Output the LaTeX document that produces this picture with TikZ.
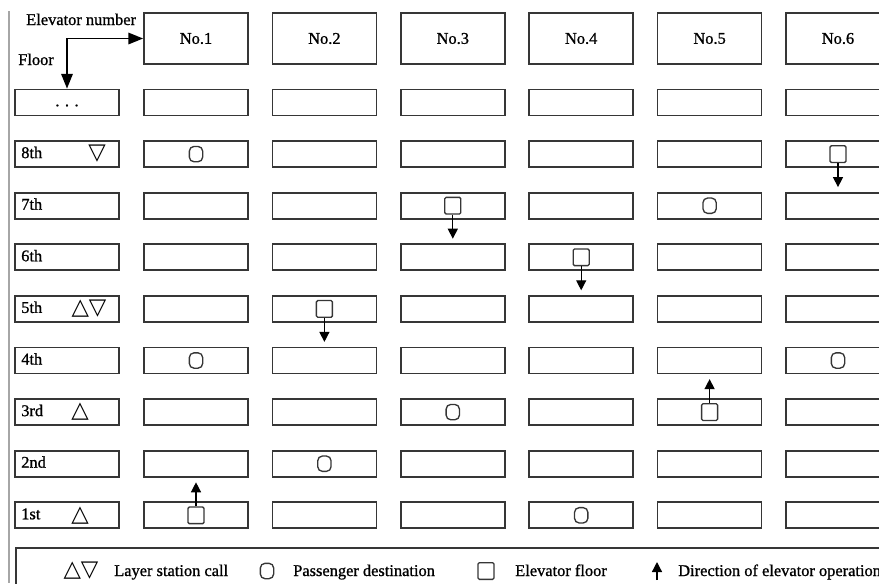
\documentclass[tikz,border=0pt]{standalone}
\usepackage{fontspec}
\setmainfont{Liberation Serif}[FakeBold=1]
\newfontfamily\symfont{DejaVu Sans}
\usetikzlibrary{arrows.meta}
\definecolor{ink}{HTML}{363636}
\definecolor{edge}{HTML}{A6A6A6}

\begin{document}
\begin{tikzpicture}[x=.75pt,y=-.75pt,font=\fontsize{12.3}{14}\selectfont,
 cell/.style={draw=ink,line width=1.3pt,minimum width=78pt,minimum height=19.5pt,inner sep=0pt},
 head/.style={cell,minimum height=38.25pt},
 label/.style={anchor=base west,inner sep=0pt},
 tri/.style={font=\symfont\fontsize{17}{17}\selectfont,inner sep=0pt},
 car/.style={draw=ink,line width=1pt,minimum width=12pt,minimum height=12.5pt,inner sep=0pt,rounded corners=1pt,fill=white},
 dest/.style={draw=ink,line width=1pt,minimum width=10pt,minimum height=11.5pt,inner sep=0pt,rounded corners=3.5pt},
 move/.style={-{Triangle[length=7.5pt,width=7.5pt]},draw=black,line width=1pt},
 link/.style={{Triangle[length=11pt,width=8.5pt]}-{Triangle[length=11pt,width=8.5pt]},draw=black,line width=1.4pt}]
\useasboundingbox (0,0) rectangle (879,583);
\clip (0,0) rectangle (879,583);
\draw[edge,line width=1.2pt] (9,11)--(9,583);
% header row: elevator numbers
\foreach \c in {1,...,6}
 \node[head] (h-\c) at ({196+128.4*(\c-1)},38.5) {No.\c};
\node[label] (t-num) at (26,25) {Elevator number};
\node[label] (t-floor) at (18,65) {Floor};
% floor column and grid of cells
\node[cell] (f-0) at (67,102.5) {\strut. . .};
\foreach \c in {1,...,6}
 \node[cell] (c-0-\c) at ({196+128.4*(\c-1)},102.5) {};
\foreach \r/\name in {1/8th,2/7th,3/6th,4/5th,5/4th,6/3rd,7/2nd,8/1st} {
 \node[cell] (f-\r) at (67,{102.5+51.6*\r}) {};
 \node[label] (n-\r) at (21,{106.5+51.6*\r}) {\name};
 \foreach \c in {1,...,6}
  \node[cell] (c-\r-\c) at ({196+128.4*(\c-1)},{102.5+51.6*\r}) {};
}
\draw[link] (f-0.north) |- (h-1.west);
% landing calls
\node[tri] (up-1) at (97,154.1) {▽};
\node[tri] (up-4) at (89,308.9) {△▽};
\node[tri] (up-6) at (80,412.1) {△};
\node[tri] (up-8) at (80,515.3) {△};
% passenger destinations
\foreach \r/\c in {1/1,2/5,5/1,5/6,6/3,7/2,8/4}
 \node[dest] (d-\r-\c) at (c-\r-\c) {};
% cars and their direction
\foreach \r/\c/\dy in {1/6/1,2/3/1,3/4/1,4/2/1,6/5/-1,8/1/-1} {
 \node[car] (e-\r-\c) at (c-\r-\c) {};
 \coordinate (tip-\r-\c) at ([shift={(0,33*\dy)}]c-\r-\c);
 \draw[move] (e-\r-\c) -- (tip-\r-\c);
}
% key
\node[draw=ink,line width=1.3pt,anchor=north west,minimum width=700pt,minimum height=60pt] (key) at (15,547) {};
\node[tri] (k-call) at (81,571) {△▽};
\node[label] (k-call-t) at (114,576) {Layer station call};
\node[dest] (k-dest) at (267,571) {};
\node[label] (k-dest-t) at (293,576) {Passenger destination};
\node[car] (k-car) at (486,571) {};
\node[label] (k-car-t) at (515,576) {Elevator floor};
\coordinate (k-foot) at (657,580);
\coordinate (k-tip) at (657,562);
\draw[move] (k-foot) -- (k-tip);
\node[label] (k-move-t) at (678,576) {Direction of elevator operation};
\end{tikzpicture}
\end{document}
